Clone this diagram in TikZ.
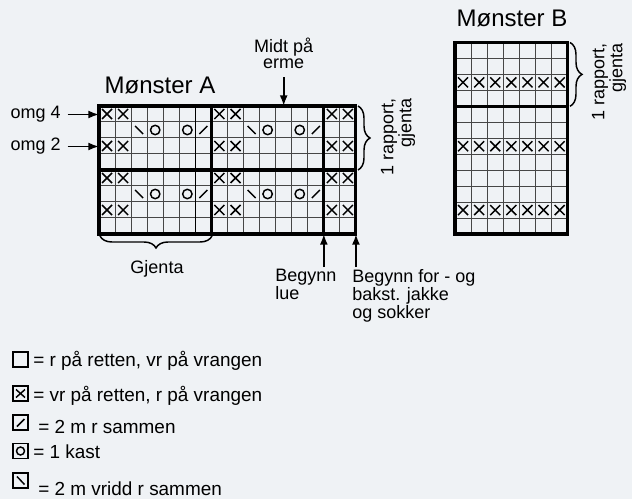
\documentclass[tikz,border=0pt]{standalone}
\usepackage{fontspec}
\setmainfont{Liberation Sans}
\usetikzlibrary{decorations.pathreplacing,arrows.meta}
\definecolor{bg}{RGB}{239,242,245}
\definecolor{gridc}{RGB}{70,70,70}
\begin{document}
\begin{tikzpicture}[x=0.75pt,y=-0.75pt,
  thinline/.style={line width=0.75pt, draw=gridc},
  medline/.style={line width=1.2pt, draw=black},
  thickline/.style={line width=2.3pt, draw=black},
  mk/.style={line width=1.1pt, draw=black},
  lbl/.style={font=\fontsize{13.5}{12}\selectfont, inner sep=0pt},
  leglbl/.style={font=\fontsize{14.2}{14}\selectfont, inner sep=0pt},
  lbltitle/.style={font=\fontsize{18}{20}\selectfont, inner sep=0pt},
  arr/.style={line width=1.4pt, -{Latex[length=8pt,width=6pt]}},
  brc/.style={line width=1.1pt, decorate, decoration={brace, amplitude=9pt}},
  legbox/.style={line width=0.8pt, draw=black},
]
\fill[bg] (0,0) rectangle (632,499);
\useasboundingbox (0,0) rectangle (632,499);

% ---------------- Chart A ----------------
\foreach \c in {0,...,16} \draw[thinline] ({99+16.06*\c},106) -- ({99+16.06*\c},234);
\foreach \r in {0,...,8} \draw[thinline] (99,{106+16*\r}) -- (355.96,{106+16*\r});
% purl marks
\foreach \r in {0,2,4,6} \foreach \c in {0,1,7,8,14,15}
  \draw[mk,shift={({99+16.06*(\c+0.5)},{106+16*(\r+0.5)})}] (-5,-5) -- (5,5) (-5,5) -- (5,-5);
% lace rows
\foreach \r in {1,5} {
  \foreach \c in {2,9}
    \draw[mk,shift={({99+16.06*(\c+0.5)},{106+16*(\r+0.5)})}] (-4,-4) -- (4,4);
  \foreach \c in {6,13}
    \draw[mk,shift={({99+16.06*(\c+0.5)},{106+16*(\r+0.5)})}] (-4,4) -- (4,-4);
  \foreach \c in {3,5,10,12}
    \draw[mk,shift={({99+16.06*(\c+0.5)},{106+16*(\r+0.5)})}] (0,0) circle (4.7);
}
\draw[medline] (195.36,106) -- (195.36,234);
\draw[thickline] (211.42,106) -- (211.42,234);
\draw[thickline] (323.84,106) -- (323.84,234);
\draw[thickline] (99,170) -- (355.96,170);
\draw[thickline] (99,106) rectangle (355.96,234);

\coordinate (Aleft) at (99,106);
\coordinate (Atop) at (283.7,106);
\coordinate (Alue) at (323.84,234);
\coordinate (Ajakke) at (355.96,234);

% ---------------- Chart B ----------------
\foreach \c in {0,...,7} \draw[thinline] ({455+16.1*\c},42.5) -- ({455+16.1*\c},234);
\foreach \r in {0,...,12} \draw[thinline] (455,{42.5+15.96*\r}) -- (567.7,{42.5+15.96*\r});
\foreach \r in {2,6,10} \foreach \c in {0,...,6}
  \draw[mk,shift={({455+16.1*(\c+0.5)},{42.5+15.96*(\r+0.5)})}] (-5,-5) -- (5,5) (-5,5) -- (5,-5);
\draw[thickline] (455,106.34) -- (567.7,106.34);
\draw[thickline] (455,42.5) rectangle (567.7,234);

% ---------------- Titles ----------------
\node[lbltitle, anchor=base] (titleA) at (160,94) {Mønster A};
\node[lbltitle, anchor=base] (titleB) at (512,27) {Mønster B};

% ---------------- Labels and arrows ----------------
\node[lbl, anchor=east] (omg4) at (61,114.5) {omg 4};
\node[lbl, anchor=east] (omg2) at (61,146.5) {omg 2};
\draw[arr, shorten <=5pt] (omg4.east) -- (omg4.east -| Aleft);
\draw[arr, shorten <=5pt] (omg2.east) -- (omg2.east -| Aleft);

\node[lbl, anchor=north, align=center] (midt) at (283.7,38) {Midt på\\erme};
\draw[arr, shorten <=6pt] (midt.south) -- (Atop);

\node[lbl, anchor=north west, align=left] (lue) at (275,269) {Begynn\\lue};
\node[lbl, anchor=north west, align=left] (jakke) at (352,269) {Begynn for - og\\bakst. jakke\\og sokker};
\draw[arr] (Alue |- lue.north) ++(0,-2) -- (Alue);
\draw[arr] (Ajakke |- jakke.north) ++(0,-2) -- (Ajakke);

% braces
\draw[brc] (212,236) -- (100,236);
\node[lbl, anchor=base] (gjenta) at (157,273) {Gjenta};
\draw[brc] (358,106) -- (358,170);
\node[lbl, rotate=90, anchor=east, align=right] (rapA) at (398,98) {1 rapport,\\gjenta};
\draw[brc] (570,42.5) -- (570,106.3);
\node[lbl, rotate=90, anchor=east, align=right] (rapB) at (609,43) {1 rapport,\\gjenta};

% ---------------- Legend ----------------
\draw[legbox] (13,352) rectangle (28,367);
\node[leglbl, anchor=base west] (leg1) at (33,366.5) {= r på retten, vr på vrangen};

\draw[legbox] (13,386) rectangle (28,401);
\draw[mk] (16,389.5) -- (25,397.5) (16,397.5) -- (25,389.5);
\node[leglbl, anchor=base west] (leg2) at (33,401) {= vr på retten, r på vrangen};

\draw[legbox] (13,415) rectangle (28,430);
\draw[mk] (17,426.5) -- (24.5,419);
\node[leglbl, anchor=base west] (leg3) at (38,433) {= 2 m r sammen};

\draw[legbox] (13,443.5) rectangle (28,458.5);
\draw[mk] (20.5,451) circle (4);
\node[leglbl, anchor=base west] (leg4) at (33,458.5) {= 1 kast};

\draw[legbox] (13,473) rectangle (28,488);
\draw[mk] (17,476.5) -- (24.5,484.5);
\node[leglbl, anchor=base west] (leg5) at (38,495) {= 2 m vridd r sammen};
\end{tikzpicture}
\end{document}
